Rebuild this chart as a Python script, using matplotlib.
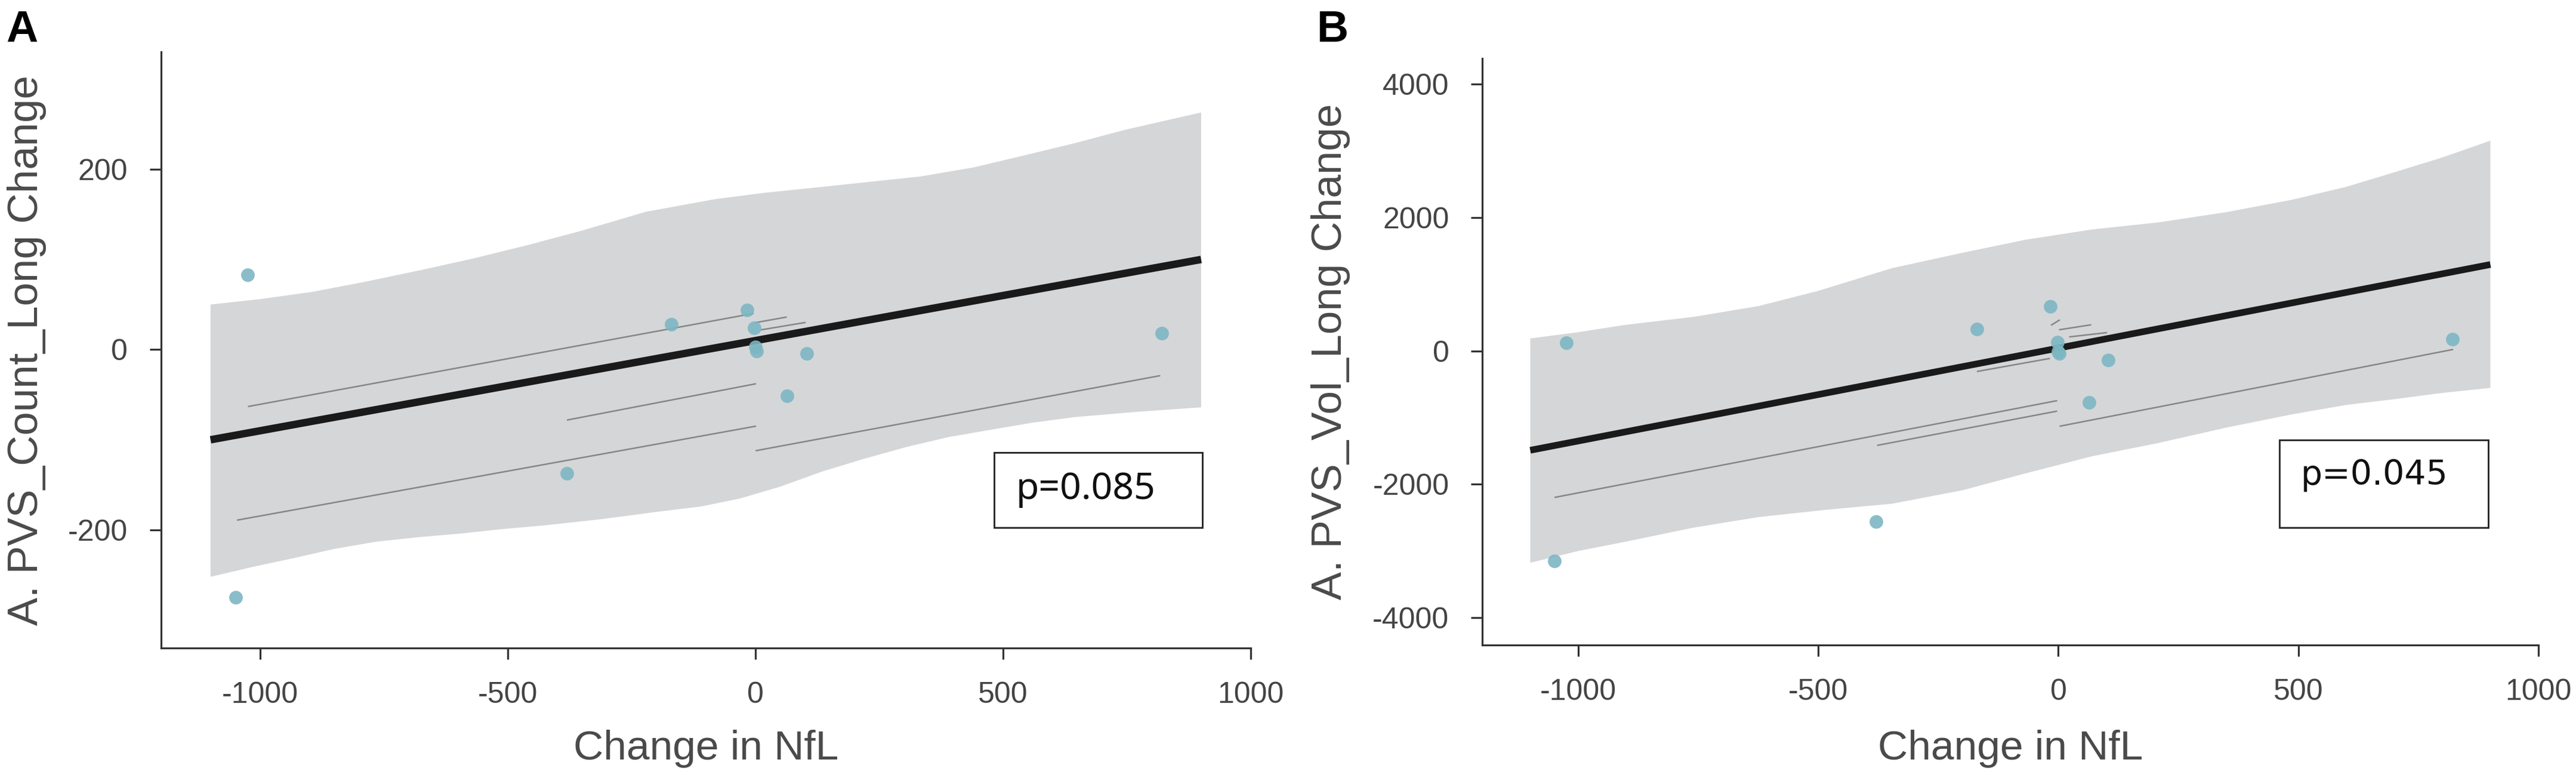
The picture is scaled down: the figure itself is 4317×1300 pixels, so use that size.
import numpy as np
import matplotlib
matplotlib.use("Agg")
import matplotlib.pyplot as plt
from matplotlib.patches import Rectangle

plt.rcParams['font.family'] = ['Liberation Sans', 'DejaVu Sans']
plt.rcParams['axes.unicode_minus'] = False

# change in NfL for each subject (shared by both panels)
nfl = [-1049, -1025, -380, -170, -17, -2, 0, 2, 64, 104, 821]
pvs_count = [-275, 83, -137, 28, 44, 24, 3, -2, -51, -4, 18]
pvs_vol = [-3150, 118, -2558, 330, 663, 128, -13, -40, -775, -142, 176]

# fitted line (ends)
fit_x = [-1100, 900]
count_fit = [-100, 100]
vol_fit = [-1490, 1295]

# confidence band
count_hi_x = [-1100, -1000, -895, -790, -677, -570, -459, -350, -220, -80, 20, 126,
              230, 333, 440, 540, 645, 748, 820, 900]
count_band_hi = [50, 56, 64, 75, 88, 101, 116, 132, 153, 167, 174, 180,
                 186, 192, 202, 215, 229, 244, 253, 263]
count_lo_x = [-1100, -1015, -930, -850, -765, -680, -595, -510, -427, -310, -200, -110,
              -30, 50, 136, 220, 305, 390, 474, 560, 642, 770, 900]
count_band_lo = [-252, -241, -231, -221, -213, -208, -204, -199, -195, -188, -180, -174,
                 -165, -152, -135, -121, -108, -97, -89, -81, -75, -69, -64]

vol_hi_x = [-1100, -1000, -903, -760, -625, -500, -346, -200, -68, 70, 209, 350,
            487, 600, 696, 800, 900]
vol_band_hi = [187, 280, 389, 510, 671, 900, 1241, 1470, 1667, 1820, 1927, 2080,
               2266, 2460, 2669, 2900, 3151]
vol_lo_x = [-1100, -1000, -903, -760, -625, -480, -346, -200, -68, 70, 209, 350,
            487, 600, 696, 800, 900]
vol_band_lo = [-3176, -3000, -2863, -2650, -2492, -2380, -2291, -2090, -1836, -1580, -1380, -1150,
               -951, -810, -727, -630, -555]

# per-subject thin lines: (x0, x1, y0, y1)
count_lines = [(-1023, -5, -63, 40), (-379, 0, -78, -38), (-1045, 0, -189, -85),
               (2, 816, -112, -29), (1, 62, 30, 36), (12, 100, 22, 30), (-171, -5, -9, 8)]
vol_lines = [(-14, 2, 390, 460), (-376, -4, -1415, -905), (-1048, -4, -2195, -748),
             (4, 821, -1128, 20), (3, 67, 318, 390), (24, 100, 211, 273), (-168, -19, -307, -115)]

fig = plt.figure(figsize=(43.17, 13), dpi=100)
ax1 = fig.add_axes([0.0625, 0.1638, 0.423, 0.769])
ax2 = fig.add_axes([0.5754, 0.1677, 0.410, 0.757])

band_col = '#d5d6d8'
pt_col = '#7db6c3'
txt_col = '#4a4a4a'


def draw(ax, ys, fit, hx, bhi, lx, blo, lines, ylim, yticks, ylabel, fit_lw):
    # upper and lower edges were read at different x, so fill a closed outline
    ax.fill(list(hx) + list(lx[::-1]), list(bhi) + list(blo[::-1]),
            color=band_col, lw=0, zorder=1)
    for x0, x1, y0, y1 in lines:
        ax.plot([x0, x1], [y0, y1], color='#868686', lw=1.8, zorder=2)
    ax.plot(fit_x, fit, color='#1a1a1a', lw=fit_lw, solid_capstyle='butt', zorder=3)
    ax.scatter(nfl, ys, s=270, color=pt_col, alpha=0.9, lw=0, zorder=4)
    ax.set_xlim(-1200, 1000)
    ax.set_ylim(*ylim)
    ax.set_xticks([-1000, -500, 0, 500, 1000])
    ax.set_yticks(yticks)
    for s in ['top', 'right']:
        ax.spines[s].set_visible(False)
    for s in ['left', 'bottom']:
        ax.spines[s].set_color('#333333')
        ax.spines[s].set_linewidth(2.3)
    ax.tick_params(length=14, width=2.3, color='#333333', labelsize=36,
                   labelcolor='#444444', pad=26)
    ax.set_xlabel('Change in NfL', fontsize=50, color=txt_col, va='top')
    ax.set_ylabel(ylabel, fontsize=51, color=txt_col)


draw(ax1, pvs_count, count_fit, count_hi_x, count_band_hi, count_lo_x, count_band_lo,
     count_lines, (-331, 330), [-200, 0, 200], 'A. PVS_Count_Long Change', 9)
draw(ax2, pvs_vol, vol_fit, vol_hi_x, vol_band_hi, vol_lo_x, vol_band_lo,
     vol_lines, (-4410, 4386), [-4000, -2000, 0, 2000, 4000], 'A. PVS_Vol_Long Change', 8)

ax1.xaxis.set_label_coords(0.5, -0.137)
ax2.xaxis.set_label_coords(0.5, -0.144)
ax1.yaxis.set_label_coords(-0.105, 0.5)
ax2.yaxis.set_label_coords(-0.125, 0.5)

# p-value boxes
ax1.add_patch(Rectangle((482, -197.7), 420, 83.9, fill=False, ec='#222222', lw=2, zorder=5))
ax1.text(526, -155, 'p=0.085', fontsize=45, family='Noto Sans', va='center', ha='left',
         color='#111111', zorder=6)
ax2.add_patch(Rectangle((461, -2652), 435, 1319, fill=False, ec='#222222', lw=2, zorder=5))
ax2.text(505, -1871, 'p=0.045', fontsize=41, family='DejaVu Sans', va='center', ha='left',
         color='#111111', zorder=6)

fig.text(10 / 4317, 1 - 70 / 1300, 'A', fontsize=53, fontweight='bold', va='baseline')
fig.text(2206 / 4317, 1 - 70 / 1300, 'B', fontsize=53, fontweight='bold', va='baseline')

fig.savefig('out.png', dpi=100)
